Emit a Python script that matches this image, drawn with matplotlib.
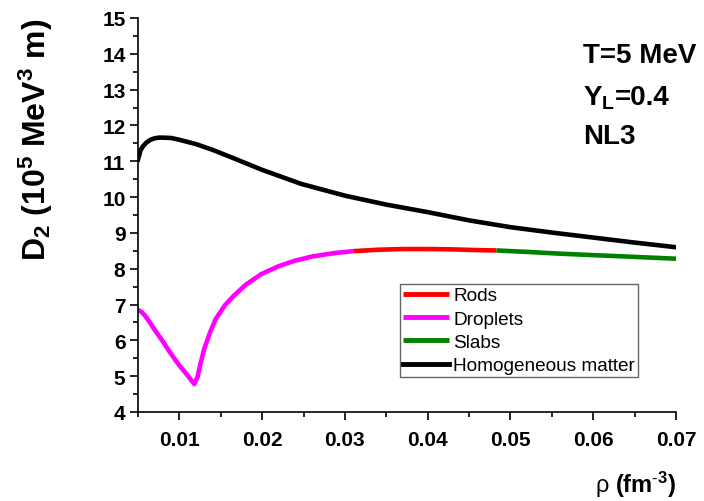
import matplotlib.pyplot as plt
from matplotlib.offsetbox import TextArea, HPacker, AnnotationBbox

# density (fm^-3) and D2 (10^5 MeV^3 m) for each pasta phase
rho_droplets = [0.005, 0.0055, 0.006, 0.007, 0.008, 0.009, 0.010, 0.011, 0.0118,
                0.0122, 0.0125, 0.013, 0.0137, 0.0144, 0.0155, 0.0166, 0.018,
                0.0199, 0.022, 0.0239, 0.026, 0.0288, 0.031]
d2_droplets = [6.85, 6.78, 6.65, 6.30, 5.97, 5.62, 5.30, 5.02, 4.78,
               4.98, 5.30, 5.76, 6.22, 6.60, 6.98, 7.25, 7.55,
               7.85, 8.07, 8.22, 8.34, 8.44, 8.49]

rho_rods = [0.031, 0.034, 0.037, 0.040, 0.043, 0.046, 0.0483]
d2_rods = [8.49, 8.53, 8.55, 8.55, 8.54, 8.52, 8.51]

rho_slabs = [0.0483, 0.052, 0.056, 0.060, 0.065, 0.070]
d2_slabs = [8.51, 8.47, 8.42, 8.38, 8.33, 8.28]

rho_homog = [0.005, 0.0053, 0.0056, 0.006, 0.0065, 0.007, 0.0075, 0.008, 0.009,
             0.010, 0.012, 0.014, 0.0166, 0.020, 0.0247, 0.030, 0.035,
             0.040, 0.045, 0.050, 0.055, 0.060, 0.065, 0.070]
d2_homog = [11.05, 11.30, 11.42, 11.52, 11.60, 11.64, 11.66, 11.66, 11.65,
            11.60, 11.48, 11.32, 11.08, 10.76, 10.37, 10.04, 9.79,
            9.58, 9.35, 9.16, 9.01, 8.87, 8.73, 8.60]

plt.rcParams['font.family'] = ['Liberation Sans', 'DejaVu Sans']
plt.rcParams['mathtext.fontset'] = 'custom'
plt.rcParams['mathtext.rm'] = 'Liberation Sans'
plt.rcParams['mathtext.it'] = 'Liberation Sans:italic'
plt.rcParams['mathtext.bf'] = 'Liberation Sans:bold'

fig = plt.figure(figsize=(7.04, 5.02), dpi=100)
ax = fig.add_axes([138 / 704, 89 / 502, 538 / 704, 394 / 502])

lw = 3.3
ax.plot(rho_rods, d2_rods, color='#ff0000', lw=lw, label='Rods', solid_capstyle='butt')
ax.plot(rho_droplets, d2_droplets, color='#ff00ff', lw=lw, label='Droplets', solid_capstyle='butt')
ax.plot(rho_slabs, d2_slabs, color='#008000', lw=lw, label='Slabs', solid_capstyle='butt')
ax.plot(rho_homog, d2_homog, color='black', lw=lw, label='Homogeneous matter')

ax.set_xlim(0.005, 0.07)
ax.set_ylim(4, 15)
ax.set_xticks([0.01, 0.02, 0.03, 0.04, 0.05, 0.06, 0.07])
ax.set_xticklabels(['0.01', '0.02', '0.03', '0.04', '0.05', '0.06', '0.07'])
ax.set_xticks([0.005, 0.015, 0.025, 0.035, 0.045, 0.055, 0.065], minor=True)
ax.set_yticks(range(4, 16))
ax.set_yticks([v + 0.5 for v in range(4, 15)], minor=True)

for side in ['top', 'right']:
    ax.spines[side].set_visible(False)
for side in ['left', 'bottom']:
    ax.spines[side].set_linewidth(1.2)

ax.tick_params(which='major', direction='out', length=6, width=1.2, labelsize=15)
ax.tick_params(which='minor', direction='out', length=3.5, width=1.2)
ax.tick_params(axis='x', which='major', pad=7)
ax.tick_params(axis='y', which='major', pad=3)
for lab in ax.get_xticklabels() + ax.get_yticklabels():
    lab.set_fontweight('bold')

ax.set_xlabel(r'$\mathrm{\rho}$ $\mathbf{(fm^{\text{-}3})}$', fontsize=17, loc='right', labelpad=14)
ax.set_ylabel(r'$\mathbf{D_2\ (10^5\ MeV^3\ m)}$', fontsize=23, loc='top')
ax.yaxis.set_label_coords(-0.155, 1.0)

# model parameters in the upper right corner
ax.text(0.827, 0.906, 'T=5 MeV', transform=ax.transAxes, fontsize=20,
        fontweight='bold', va='center', ha='left')
yl_box = HPacker(children=[
    TextArea(r'$\mathbf{Y_L}$', textprops=dict(fontsize=20)),
    TextArea('=0.4', textprops=dict(fontsize=20, fontweight='bold')),
], sep=0, pad=0, align='baseline')
ax.add_artist(AnnotationBbox(yl_box, (0.827, 0.800), xycoords='axes fraction',
                             box_alignment=(0, 0.5), frameon=False, pad=0))
ax.text(0.827, 0.700, 'NL3', transform=ax.transAxes, fontsize=20,
        fontweight='bold', va='center', ha='left')

leg = ax.legend(loc='upper left', bbox_to_anchor=(400 / 704, 1 - 285 / 502),
                bbox_transform=fig.transFigure, borderaxespad=0, fontsize=13.7,
                handlelength=2.4, handletextpad=0.25, labelspacing=0.32,
                borderpad=0.15, fancybox=False, framealpha=1)
leg.get_frame().set_edgecolor('#666666')
leg.get_frame().set_linewidth(1.0)
for line in leg.get_lines():
    line.set_linewidth(3.5)

fig.savefig('out.png', dpi=100)
